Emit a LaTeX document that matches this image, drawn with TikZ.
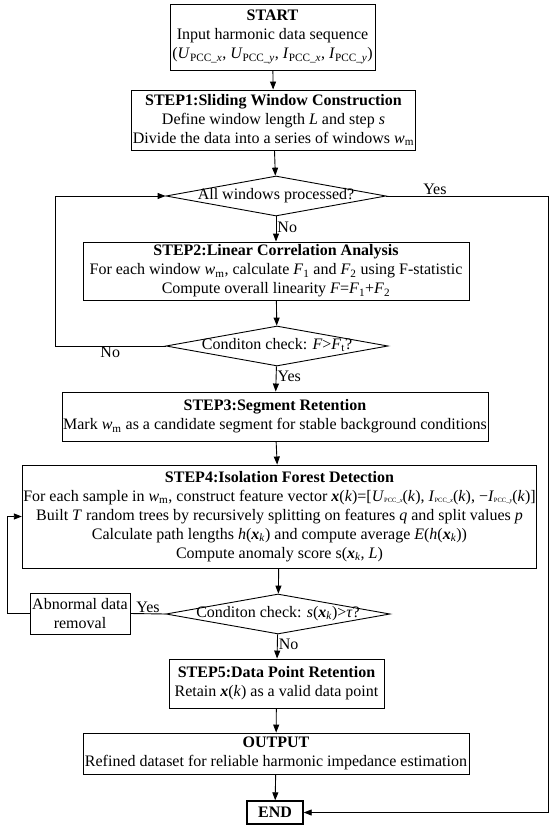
\documentclass[tikz,border=0pt]{standalone}
\usepackage{fontspec}
\setmainfont{Liberation Serif}
\usetikzlibrary{shapes.geometric,arrows.meta}

\newcommand{\vsub}[2]{\textit{#1}\textsubscript{#2}}
\newcommand{\vsubt}[2]{\textit{#1}{\fontsize{6.5}{7}\selectfont\raisebox{-1.5pt}{#2}}}
\newcommand{\bx}{\textbf{\textit{x}}}

\tikzset{
	box/.style={draw, line width=0.9pt, align=center, inner sep=1pt,
		font=\fontsize{16}{19}\selectfont},
	decision/.style={draw, diamond, aspect=5.5, inner sep=0pt, line width=0.9pt,
		text height=6pt, text depth=0pt, font=\fontsize{16}{19}\selectfont},
	lbl/.style={font=\fontsize{16}{19}\selectfont, inner sep=1pt},
	flow/.style={-{Triangle[length=8pt,width=6pt]}, line width=0.9pt},
	link/.style={line width=0.9pt},
}

\begin{document}
\begin{tikzpicture}[x=1pt,y=1pt]
	\useasboundingbox (0,0) rectangle (550,-829);

	% Start
	\node[box, minimum width=205pt, minimum height=66pt] (start) at (272.5,-37)
		{\textbf{START}\\Input harmonic data sequence\\
		(\vsub{U}{PCC\_\textit{x}}, \vsub{U}{PCC\_\textit{y}}, \vsub{I}{PCC\_\textit{x}}, \vsub{I}{PCC\_\textit{y}})};

	% Step 1
	\node[box, minimum width=283pt, minimum height=60pt] (step1) at (273.5,-120)
		{\textbf{STEP1:Sliding Window Construction}\\
		Define window length \textit{L} and step \textit{s}\\
		Divide the data into a series of windows \vsub{w}{m}};

	% Loop check
	\node[decision, minimum width=220pt, minimum height=40pt] (check1) at (276,-196)
		{All windows processed?};

	% Step 2
	\node[box, minimum width=386pt, minimum height=58pt] (step2) at (276,-271)
		{\textbf{STEP2:Linear Correlation Analysis}\\
		For each window \vsub{w}{m}, calculate \vsub{F}{1} and \vsub{F}{2} using F-statistic\\
		Compute overall linearity \textit{F}=\vsub{F}{1}+\vsub{F}{2}};

	% Linearity check
	\node[decision, minimum width=222pt, minimum height=40pt] (check2) at (277,-346)
		{Conditon check: \textit{F}>\vsub{F}{t}?};

	% Step 3
	\node[box, minimum width=426pt, minimum height=49pt] (step3) at (275,-416.5)
		{\textbf{STEP3:Segment Retention}\\
		Mark \vsub{w}{m} as a candidate segment for stable background conditions};

	% Step 4
	\node[box, minimum width=513pt, minimum height=103pt] (step4) at (279.5,-516.5)
		{\textbf{STEP4:Isolation Forest Detection}\\
		For each sample in \vsub{w}{m}, construct feature vector \bx(\textit{k})=[\vsubt{U}{PCC\_\textit{x}}(\textit{k}), \vsubt{I}{PCC\_\textit{x}}(\textit{k}), −\vsubt{I}{PCC\_\textit{y}}(\textit{k})]\\
		Built \textit{T} random trees by recursively splitting on features \textit{q} and split values \textit{p}\\
		Calculate path lengths \textit{h}(\bx\textsubscript{\textit{k}}) and compute average \textit{E}(\textit{h}(\bx\textsubscript{\textit{k}}))\\
		Compute anomaly score s(\bx\textsubscript{\textit{k}}, \textit{L})};

	% Anomaly check
	\node[decision, minimum width=224pt, minimum height=40pt] (check3) at (278,-614)
		{Conditon check: \textit{s}(\bx\textsubscript{\textit{k}})>\textit{τ}?};

	% Removal
	\node[box, minimum width=100pt, minimum height=41pt] (removal) at (80,-613.5)
		{Abnormal data\\removal};

	% Step 5
	\node[box, minimum width=215pt, minimum height=49pt] (step5) at (276.5,-683.5)
		{\textbf{STEP5:Data Point Retention}\\
		Retain \bx(\textit{k}) as a valid data point};

	% Output
	\node[box, minimum width=386pt, minimum height=41pt] (output) at (276,-753.5)
		{\textbf{OUTPUT}\\
		Refined dataset for reliable harmonic impedance estimation};

	% End
	\node[box, line width=1.4pt, minimum width=56pt, minimum height=23pt] (end) at (275,-812.5)
		{\textbf{END}};

	% Main flow
	\draw[flow] (start) -- (step1);
	\draw[flow] (step1) -- (check1);
	\draw[flow] (check1) -- node[lbl, right, pos=0.45] {No} (step2);
	\draw[flow] (step2) -- (check2);
	\draw[flow] (check2) -- node[lbl, right, pos=0.4] {Yes} (step3);
	\draw[flow] (step3) -- (step4);
	\draw[flow] (step4) -- (check3);
	\draw[flow] (check3) -- node[lbl, right, pos=0.4] {No} (step5);
	\draw[flow] (step5) -- (output);
	\draw[flow] (output) -- (end);

	% Loops
	\draw[flow] (check2.west) -- node[lbl, below, pos=0.5] {No} (55,-346) |- (check1.west);
	\draw[flow] (check1.east) -- node[lbl, above, pos=0.3] {Yes} (548,-196) |- (end.east);
	\draw[link] (check3.west) -- node[lbl, above, pos=0.5] {Yes} (removal.east);
	\draw[flow] (removal.west) -- (7,-613.5) |- (step4.west);
\end{tikzpicture}
\end{document}
